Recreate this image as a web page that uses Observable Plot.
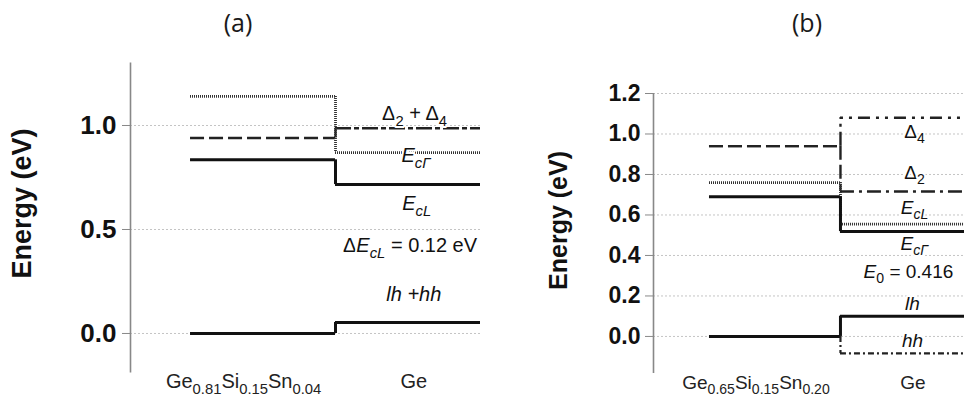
<!DOCTYPE html>
<html><head><meta charset="utf-8">
<script src="https://cdn.jsdelivr.net/npm/d3@7"></script>
<script src="https://cdn.jsdelivr.net/npm/@observablehq/plot@0.6"></script>
<style>
body{margin:0;background:#fff;}
#wrap{display:flex;width:964px;height:400px;overflow:hidden;}
.panel{position:relative;flex:none;}
.title{position:absolute;top:0;height:45px;line-height:45px;transform:translateX(-50%);font-family:"Open Sans",sans-serif;font-size:25px;color:#1a1a1a;white-space:nowrap;}
.chart{position:absolute;top:45px;left:0;}
</style></head><body><div id="wrap"></div><script>
// ---------- Panel (a) data ----------
const aSeries = ["Δ2+Δ4", "EcΓ", "EcL", "lh+hh"];
const aLeft   = [0.94, 1.14, 0.835, 0.0];
const aRight  = [0.987, 0.87, 0.716, 0.053];
const aTicks  = [0, 0.5, 1.0];
const aCategories = ["Ge_{0.81}Si_{0.15}Sn_{0.04}", "Ge"];
const aCategoryX  = [0.366, 1.54];
const aLabels = ["Δ_{2} + Δ_{4}", "*E*_{*cΓ*}", "*E*_{*cL*}", "Δ*E*_{*cL*} = 0.12 eV", "*lh +hh*"];
const aLabelX = [1.545, 1.555, 1.56, 1.514, 1.54];
const aLabelY = [1.058, 0.856, 0.625, 0.423, 0.1875];

// ---------- Panel (b) data ----------
const bSeries = ["Δ4", "Δ2", "EcL", "EcΓ", "lh", "hh"];
const bLeft   = [0.94, 0.94, 0.76, 0.69, 0.0, 0.0];
const bRight  = [1.08, 0.716, 0.555, 0.518, 0.10, -0.084];
const bTicks  = [0, 0.2, 0.4, 0.6, 0.8, 1.0, 1.2];
const bCategories = ["Ge_{0.65}Si_{0.15}Sn_{0.20}", "Ge"];
const bCategoryX  = [0.355, 1.553];
const bLabels = ["Δ_{4}", "Δ_{2}", "*E*_{*cL*}", "*E*_{*cΓ*}", "*E*_{0} = 0.416", "*lh*", "*hh*"];
const bLabelX = [1.565, 1.565, 1.565, 1.565, 1.519, 1.55, 1.55];
const bLabelY = [1.012, 0.81, 0.637, 0.459, 0.32, 0.163, -0.02];

// ---------- styles ----------
const lineStyles = {
  solid:      {stroke: "#111", strokeWidth: 3},
  dashed:     {stroke: "#222", strokeWidth: 2.4, strokeDasharray: "14,5"},
  dotted:     {stroke: "#333", strokeWidth: 2.8, strokeDasharray: "1,1"},
  dashDot:    {stroke: "#222", strokeWidth: 2.4, strokeDasharray: "16,3,5,3"},
  dashDotB:   {stroke: "#222", strokeWidth: 2.4, strokeDasharray: "14,5,3,5"},
  dashDotDot: {stroke: "#222", strokeWidth: 2.4, strokeDasharray: "3,6,3,6,12,6"},
  dashDotFine:{stroke: "#222", strokeWidth: 2.2, strokeDasharray: "6,3,2,3"}
};
// [left, vertical, right]
const aStyle = {
  "Δ2+Δ4": ["dashed", "dashed", "dashDot"],
  "EcΓ":   ["dotted", "dotted", "dotted"],
  "EcL":   ["solid", "solid", "solid"],
  "lh+hh": ["solid", "solid", "solid"]
};
const bStyle = {
  "Δ4":  ["dashed", "dashDotB", "dashDotDot"],
  "Δ2":  ["dashed", "dashed", "dashDotB"],
  "EcL": ["dotted", "dotted", "dotted"],
  "EcΓ": ["solid", "solid", "solid"],
  "lh":  ["solid", "solid", "solid"],
  "hh":  ["solid", "dashDotFine", "dashDotFine"]
};

function richify(el) {
  const raw = el.textContent;
  if (!/[_*]/.test(raw)) return;
  const fs = parseFloat(getComputedStyle(el).fontSize);
  let italic = false, sub = false, buf = "";
  const segs = [];
  const push = () => { if (buf) segs.push({t: buf, italic, sub}); buf = ""; };
  for (let i = 0; i < raw.length; i++) {
    const c = raw[i];
    if (c === "*") { push(); italic = !italic; }
    else if (c === "_" && raw[i + 1] === "{") { push(); sub = true; i++; }
    else if (c === "}" && sub) { push(); sub = false; }
    else buf += c;
  }
  push();
  el.textContent = "";
  const shift = 0.3 * fs;
  let shifted = false;
  for (const s of segs) {
    const ts = document.createElementNS("http://www.w3.org/2000/svg", "tspan");
    ts.textContent = s.t;
    if (s.italic) ts.setAttribute("font-style", "italic");
    if (s.sub) {
      ts.setAttribute("font-size", (0.74 * fs) + "px");
      if (!shifted) { ts.setAttribute("dy", shift); shifted = true; }
    } else if (shifted) { ts.setAttribute("dy", -shift); shifted = false; }
    el.appendChild(ts);
  }
}

function makePanel(cfg) {
  const rows = cfg.series.map((name, i) => ({name, left: cfg.left[i], right: cfg.right[i]}));
  const marks = [
    Plot.gridY(cfg.ticks, {stroke: "#c4c4c4", strokeOpacity: 1, strokeWidth: 1, strokeDasharray: "2,2"}),
    Plot.ruleX([cfg.xDomain[0]], {y1: cfg.yDomain[0], y2: cfg.yDomain[1], stroke: "#888", strokeWidth: 1.6}),
    Plot.axisY({ticks: cfg.ticks, tickFormat: d3.format(".1f"), tickSize: 8, tickPadding: cfg.tickPadding, stroke: "#888", fill: "#111", label: null})
  ];
  for (const r of rows) {
    const [ls, vs, rs] = cfg.style[r.name];
    marks.push(Plot.ruleY([r], {y: "left", x1: 0, x2: 1, ...lineStyles[ls]}));
    marks.push(Plot.ruleX([r], {x: 1, y1: "left", y2: "right", ...lineStyles[vs]}));
    marks.push(Plot.ruleY([r], {y: "right", x1: 1, x2: 2, ...lineStyles[rs]}));
  }
  const labels = cfg.labels.map((t, i) => ({t, x: cfg.labelX[i], y: cfg.labelY[i]}));
  marks.push(Plot.text(labels, {x: "x", y: "y", text: "t", fontSize: cfg.labelSize, fontWeight: "normal", fill: "#111", stroke: "white", strokeWidth: 4}));
  const cats = cfg.categories.map((t, i) => ({t, x: cfg.categoryX[i]}));
  marks.push(Plot.text(cats, {x: "x", y: cfg.yDomain[0], dy: cfg.categoryDy, text: "t", fontSize: cfg.categorySize, fontWeight: "normal", fill: "#222"}));
  marks.push(Plot.text(["Energy (eV)"], {x: cfg.xDomain[0], y: cfg.yTitleAt, dx: cfg.yTitleDx, rotate: -90, text: d => d, fontSize: cfg.yTitleSize, fontWeight: "bold", fill: "#111"}));
  return Plot.plot({
    width: cfg.width, height: 355,
    marginLeft: cfg.marginLeft, marginRight: 0, marginTop: cfg.marginTop, marginBottom: cfg.marginBottom,
    x: {domain: cfg.xDomain, axis: null},
    y: {domain: cfg.yDomain},
    style: {fontFamily: "'Liberation Sans', Arial, sans-serif", fontSize: cfg.tickSize + "px", fontWeight: "bold", background: "transparent", overflow: "visible"},
    marks
  });
}

const wrap = document.getElementById("wrap");
function addPanel(width, title, titleX, cfg) {
  const p = document.createElement("div");
  p.className = "panel"; p.style.width = width + "px"; p.style.height = "400px";
  const t = document.createElement("div");
  t.className = "title"; t.style.left = titleX + "px"; t.textContent = title;
  p.appendChild(t);
  const c = document.createElement("div"); c.className = "chart";
  const svg = makePanel(cfg);
  c.appendChild(svg); p.appendChild(c); wrap.appendChild(p);
  svg.querySelectorAll("text").forEach(richify);
}

addPanel(480, "(a)", 238, {
  width: 480, marginLeft: 130, marginTop: 17.6, marginBottom: 27.5,
  xDomain: [-0.414, 2], yDomain: [-0.19, 1.30],
  series: aSeries, left: aLeft, right: aRight, style: aStyle, ticks: aTicks,
  labels: aLabels, labelX: aLabelX, labelY: aLabelY, labelSize: 20,
  categories: aCategories, categoryX: aCategoryX, categoryDy: 9, categorySize: 20,
  yTitleAt: 0.625, yTitleDx: -108, yTitleSize: 27, tickSize: 26, tickPadding: 6
});
addPanel(484, "(b)", 327, {
  width: 484, marginLeft: 173, marginTop: 48, marginBottom: 27,
  xDomain: [-0.4275, 1.947], yDomain: [-0.183, 1.2],
  series: bSeries, left: bLeft, right: bRight, style: bStyle, ticks: bTicks,
  labels: bLabels, labelX: bLabelX, labelY: bLabelY, labelSize: 19,
  categories: bCategories, categoryX: bCategoryX, categoryDy: 9, categorySize: 19,
  yTitleAt: 0.573, yTitleDx: -95, yTitleSize: 25, tickSize: 23, tickPadding: 5
});
</script></body></html>
